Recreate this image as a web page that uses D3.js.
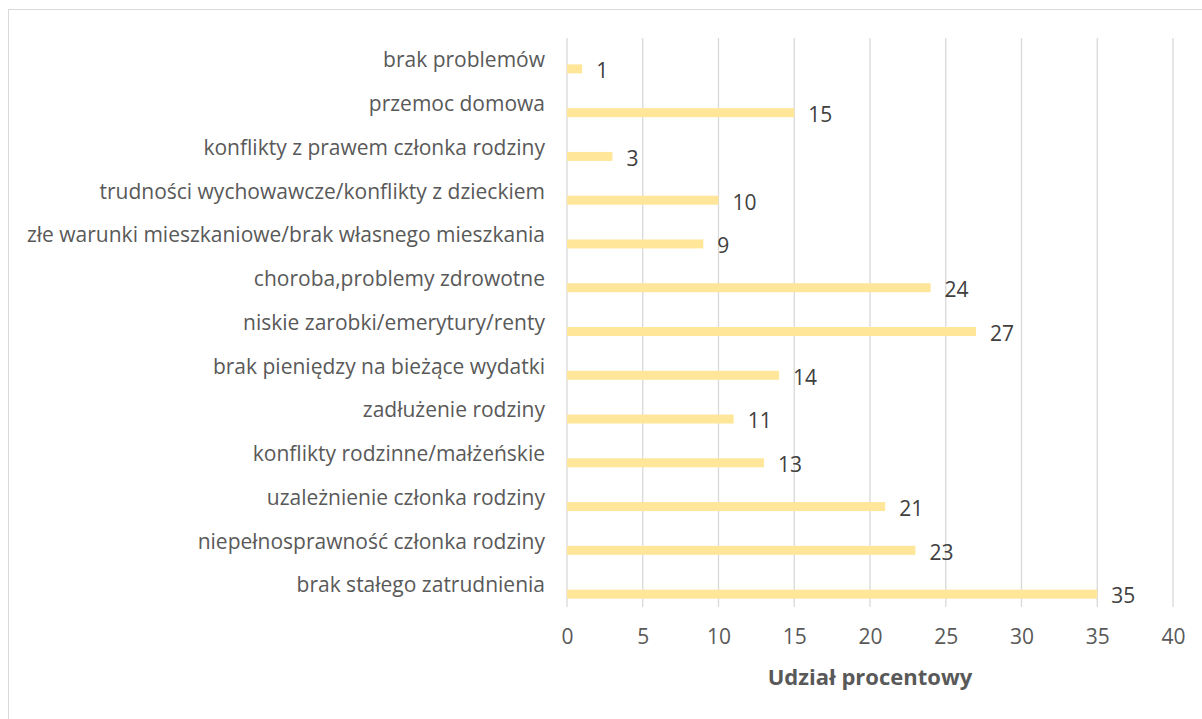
<!DOCTYPE html>
<html lang="pl">
<head>
    <meta charset="UTF-8">
    <title>Udział procentowy</title>
    <script src="https://d3js.org/d3.v7.min.js"></script>
    <style>
        body {
            margin: 0;
            padding: 0;
            background: white;
            font-family: 'Open Sans', sans-serif;
        }
        svg {
            display: block;
        }
    </style>
</head>
<body>
    <svg id="chart" width="1202" height="719"></svg>

    <script>
        // categories top to bottom, as in the picture
        const categories = [
            "brak problemów",
            "przemoc domowa",
            "konflikty z prawem członka rodziny",
            "trudności wychowawcze/konflikty z dzieckiem",
            "złe warunki mieszkaniowe/brak własnego mieszkania",
            "choroba,problemy zdrowotne",
            "niskie zarobki/emerytury/renty",
            "brak pieniędzy na bieżące wydatki",
            "zadłużenie rodziny",
            "konflikty rodzinne/małżeńskie",
            "uzależnienie członka rodziny",
            "niepełnosprawność członka rodziny",
            "brak stałego zatrudnienia"
        ];
        const values = [1, 15, 3, 10, 9, 24, 27, 14, 11, 13, 21, 23, 35];
        const xTicks = [0, 5, 10, 15, 20, 25, 30, 35, 40];
        const axisTitle = "Udział procentowy";

        const svg = d3.select("#chart");
        const textColor = "#595959";
        const gridColor = "#d9d9d9";

        // outer frame (bottom and right edges fall outside the picture)
        svg.append("rect")
            .attr("x", 8.5).attr("y", 9.5)
            .attr("width", 1210).attr("height", 720)
            .attr("fill", "none")
            .attr("stroke", gridColor);

        const plot = { left: 567, right: 1173, top: 38, bottom: 607 };

        const x = d3.scaleLinear()
            .domain([0, 40])
            .range([plot.left, plot.right]);

        const y = d3.scaleBand()
            .domain(categories)
            .range([plot.top, plot.bottom]);

        // vertical gridlines
        svg.append("g")
            .selectAll("line")
            .data(xTicks)
            .join("line")
            .attr("x1", d => x(d)).attr("x2", d => x(d))
            .attr("y1", plot.top).attr("y2", plot.bottom)
            .attr("stroke", gridColor)
            .attr("stroke-width", 1.3);

        // x axis labels
        const xAxis = svg.append("g")
            .attr("transform", `translate(0,${plot.bottom})`)
            .call(d3.axisBottom(x).tickValues(xTicks).tickSize(0).tickPadding(0));
        xAxis.select(".domain").remove();
        xAxis.selectAll("text")
            .attr("y", 30)
            .attr("dy", "0.35em")
            .attr("fill", textColor)
            .style("font-family", "'Open Sans', sans-serif")
            .style("font-size", "21px");

        // category labels
        const yAxis = svg.append("g")
            .attr("transform", `translate(${plot.left - 22},0)`)
            .call(d3.axisLeft(y).tickSize(0).tickPadding(0));
        yAxis.select(".domain").remove();
        yAxis.selectAll("text")
            .attr("dy", "0.35em")
            .attr("fill", textColor)
            .style("font-family", "'Open Sans', sans-serif")
            .style("font-size", "21px");

        // bars sit in the lower half of each band
        const barH = 9;
        const barOffset = 9;

        svg.append("g")
            .selectAll("rect")
            .data(values)
            .join("rect")
            .attr("x", x(0))
            .attr("y", (d, i) => y(categories[i]) + y.bandwidth() / 2 + barOffset - barH / 2)
            .attr("width", d => x(d) - x(0))
            .attr("height", barH)
            .attr("fill", "#ffe699");

        // value labels
        svg.append("g")
            .selectAll("text")
            .data(values)
            .join("text")
            .attr("x", d => x(d) + 14)
            .attr("y", (d, i) => y(categories[i]) + y.bandwidth() / 2 + barOffset + 2)
            .attr("dy", "0.35em")
            .attr("fill", "#404040")
            .style("font-size", "21px")
            .text(d => d);

        // axis title
        svg.append("text")
            .attr("x", (plot.left + plot.right) / 2)
            .attr("y", 677)
            .attr("dy", "0.35em")
            .attr("text-anchor", "middle")
            .attr("fill", textColor)
            .style("font-size", "22px")
            .style("font-weight", "bold")
            .text(axisTitle);
    </script>
</body>
</html>
